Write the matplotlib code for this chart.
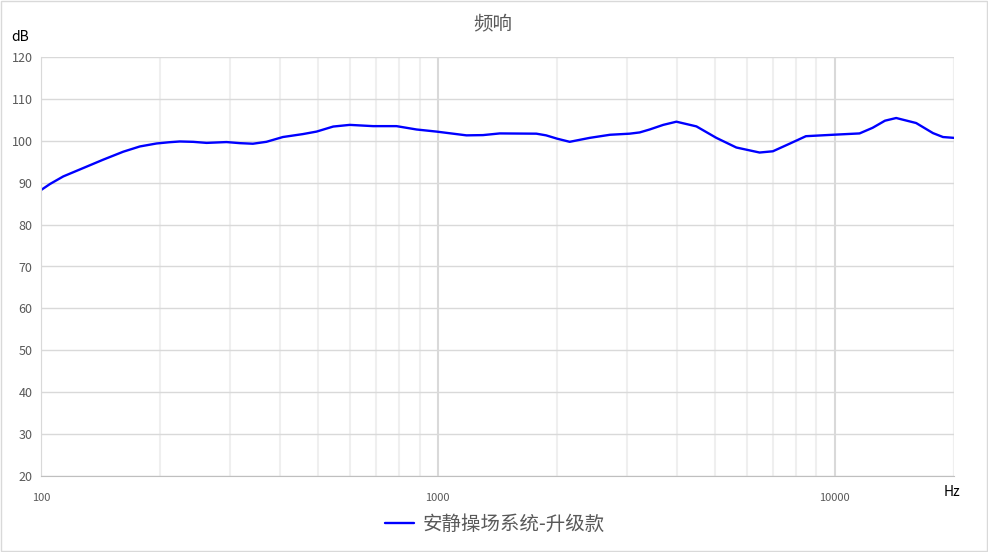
import numpy as np
import matplotlib.pyplot as plt
from matplotlib.ticker import FixedLocator, NullFormatter
from matplotlib.patches import Rectangle

plt.rcParams['font.family'] = ['Noto Sans CJK SC', 'DejaVu Sans']

# frequency response
freq = [100, 105.4, 113.8, 127.8, 143.5, 161.2, 177.5, 195.5, 210, 223.8, 242,
        261.5, 293.5, 317, 342, 370, 407, 457, 495, 545, 600, 687, 787, 884,
        992, 1181, 1300, 1433, 1772, 1875, 2000, 2150, 2415, 2717, 3045, 3228,
        3420, 3700, 3994, 4486, 5036, 5655, 6472, 6991, 7700, 8469, 9900,
        11560, 12470, 13400, 14300, 16055, 17700, 18760, 20000]
spl = [88.24, 89.7, 91.5, 93.5, 95.5, 97.4, 98.65, 99.36, 99.65, 99.84, 99.75,
       99.5, 99.7, 99.44, 99.3, 99.76, 100.9, 101.6, 102.2, 103.4, 103.8,
       103.5, 103.5, 102.7, 102.2, 101.3, 101.36, 101.76, 101.7, 101.3,
       100.5, 99.76, 100.7, 101.44, 101.7, 102.0, 102.7, 103.8, 104.56,
       103.44, 100.7, 98.4, 97.2, 97.5, 99.3, 101.1, 101.44, 101.76, 103.1,
       104.8, 105.44, 104.24, 101.84, 100.9, 100.7]
series_name = '安静操场系统-升级款'
title = '频响'

grey = '#595959'

fig = plt.figure(figsize=(9.88, 5.52), dpi=100)
fig.patches.append(Rectangle((0.001, 0.001), 0.998, 0.997, transform=fig.transFigure,
                             fill=False, edgecolor='#d9d9d9', linewidth=1))
ax = fig.add_axes([41 / 988, 76 / 552, 913 / 988, 419 / 552])

ax.plot(freq, spl, color='#0000ff', linewidth=1.7, solid_joinstyle='round',
        solid_capstyle='round')

ax.set_xscale('log')
ax.set_xlim(100, 20000)
ax.set_ylim(20, 120)
ax.set_yticks(np.arange(20, 121, 10))

ax.xaxis.set_major_locator(FixedLocator([100, 1000, 10000]))
minors = [m * d for d in (100, 1000, 10000) for m in range(2, 10)] + [20000]
ax.xaxis.set_minor_locator(FixedLocator(minors))
ax.xaxis.set_minor_formatter(NullFormatter())
ax.set_xticklabels(['100', '1000', '10000'])

ax.grid(axis='y', color='#d9d9d9', linewidth=1)
ax.grid(axis='x', which='major', color='#d9d9d9', linewidth=1.5)
ax.grid(axis='x', which='minor', color='#efefef', linewidth=1.5)
ax.set_axisbelow(True)

for s in ['top', 'right']:
    ax.spines[s].set_visible(False)
ax.spines['left'].set_color('#d9d9d9')
ax.spines['bottom'].set_color('#bfbfbf')
ax.tick_params(axis='both', which='both', length=0, colors=grey, labelsize=9)
ax.tick_params(axis='x', pad=12, labelsize=8)
ax.tick_params(axis='y', pad=6)

fig.text(493 / 988, 1 - 24 / 552, title, ha='center', va='center', fontsize=14, color=grey)
fig.text(20 / 988, 1 - 37 / 552, 'dB', ha='center', va='center', fontsize=10, color='black')
fig.text(952 / 988, 1 - 492 / 552, 'Hz', ha='center', va='center', fontsize=10, color='black')

ax.legend([ax.lines[0]], [series_name], loc='center', bbox_to_anchor=(495 / 988, 1 - 524 / 552),
          bbox_transform=fig.transFigure, frameon=False, fontsize=14, labelcolor=grey,
          handlelength=1.45, handletextpad=0.45)

fig.savefig('out.png', dpi=100)
